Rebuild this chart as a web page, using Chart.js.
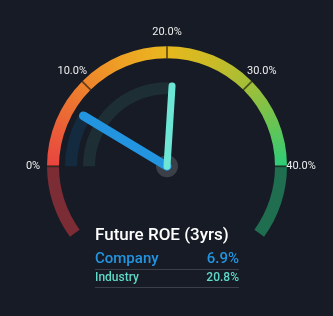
<!DOCTYPE html>
<html>
<head>
<meta charset="utf-8">
<script src="https://cdn.jsdelivr.net/npm/chart.js@4"></script>
<style>
  html, body { margin: 0; padding: 0; background: #161b25; }
  #wrap { position: relative; width: 333px; height: 316px; font-family: Roboto, sans-serif; }
  #gauge { position: absolute; left: 0; top: 0; }
  .title { position: absolute; left: 95px; top: 224px; color: #fff; font-size: 17px; font-weight: 500; }
  .row { position: absolute; left: 95px; width: 144px; display: flex; justify-content: space-between; border-bottom: 1px solid #3a3f4a; }
  .company { top: 249px; height: 20px; color: #2394df; font-size: 15px; font-weight: 500; }
  .industry { top: 270px; height: 17px; color: #5fd9c8; font-size: 12px; font-weight: 500; }
</style>
</head>
<body>
<div id="wrap">
  <canvas id="gauge" width="333" height="316"></canvas>
  <div class="title">Future ROE (3yrs)</div>
  <div class="row company"><span>Company</span><span id="cval"></span></div>
  <div class="row industry"><span>Industry</span><span id="ival"></span></div>
</div>
<script>
const scaleMin = 0;
const scaleMax = 40;
const tickValues = [0, 10, 20, 30, 40];
const tickLabels = ["0%", "10.0%", "20.0%", "30.0%", "40.0%"];
const seriesNames = ["Company", "Industry"];
const seriesValues = [6.9, 20.8];

const companyCol = "#2394df";
const industryCol = "#6de6d6";

document.getElementById("cval").textContent = seriesValues[0].toFixed(1) + "%";
document.getElementById("ival").textContent = seriesValues[1].toFixed(1) + "%";

// the gauge runs 36 degrees past horizontal on each side
const extension = (scaleMax - scaleMin) * 36 / 180;
const span = scaleMax - scaleMin;

const segments = [];
for (let i = 1; i < tickValues.length; i++) {
    segments.push(tickValues[i] - tickValues[i - 1]);
}

function outerColor(c) {
    if (c.dataIndex === 0) return "#7b2c35";
    if (c.dataIndex === segments.length + 1) return "#1f6e4f";
    const chart = c.chart;
    const area = chart.chartArea;
    if (!area) return "#e8b81e";
    const ctrl = chart.getDatasetMeta(0).controller;
    const cx = (area.left + area.right) / 2 + (ctrl.offsetX || 0);
    const cy = (area.top + area.bottom) / 2 + (ctrl.offsetY || 0);
    const g = chart.ctx.createConicGradient(Math.PI, cx, cy);
    g.addColorStop(0, "#e8453f");
    g.addColorStop(0.0625, "#eb6336");
    g.addColorStop(0.125, "#ee842c");
    g.addColorStop(0.1875, "#eea224");
    g.addColorStop(0.25, "#e8b81e");
    g.addColorStop(0.3125, "#ccbb26");
    g.addColorStop(0.375, "#a2bf38");
    g.addColorStop(0.4375, "#6ac452");
    g.addColorStop(0.5, "#2ecc78");
    g.addColorStop(1, "#2ecc78");
    return g;
}

const gaugePlugin = {
    id: "gaugeExtras",
    afterDatasetsDraw(chart) {
        const ctx = chart.ctx;
        const outer = chart.getDatasetMeta(0).data[1];
        const cx = outer.x, cy = outer.y;
        const toAngle = (v) => Math.PI + (v - scaleMin) / span * Math.PI;

        // tick marks and labels
        ctx.save();
        tickValues.forEach((v, i) => {
            const a = toAngle(v);
            ctx.strokeStyle = "rgba(20,16,10,0.55)";
            ctx.lineWidth = 2;
            ctx.beginPath();
            ctx.moveTo(cx + outer.innerRadius * Math.cos(a), cy + outer.innerRadius * Math.sin(a));
            ctx.lineTo(cx + outer.outerRadius * Math.cos(a), cy + outer.outerRadius * Math.sin(a));
            ctx.stroke();
            ctx.fillStyle = "#eeeeee";
            ctx.font = "11px Roboto";
            ctx.textAlign = "center";
            ctx.textBaseline = "middle";
            const r = outer.outerRadius + 14;
            ctx.fillText(tickLabels[i], cx + r * Math.cos(a), cy + r * Math.sin(a));
        });

        // hub
        ctx.fillStyle = "#3a3f48";
        ctx.beginPath();
        ctx.arc(cx, cy, 11, 0, Math.PI * 2);
        ctx.fill();

        // needles
        const needles = [
            { meta: 2, color: companyCol, width: 9 },
            { meta: 4, color: industryCol, width: 7 },
        ];
        needles.forEach((n) => {
            const arc = chart.getDatasetMeta(n.meta).data[1];
            const a = arc.endAngle;
            const r = arc.outerRadius - n.width / 2;
            ctx.strokeStyle = n.color;
            ctx.lineWidth = n.width;
            ctx.lineCap = "round";
            ctx.beginPath();
            ctx.moveTo(cx, cy);
            ctx.lineTo(cx + r * Math.cos(a), cy + r * Math.sin(a));
            ctx.stroke();
        });
        ctx.restore();
    },
};

const chart = new Chart(document.getElementById("gauge"), {
    type: "doughnut",
    data: {
        labels: [],
        datasets: [
            {
                label: "scale",
                data: [extension].concat(segments, [extension]),
                backgroundColor: outerColor,
                weight: 2,
            },
            { label: "gap1", data: [1], backgroundColor: "rgba(0,0,0,0)", weight: 1 },
            {
                label: seriesNames[0],
                data: [extension, seriesValues[0] - scaleMin, scaleMax - seriesValues[0] + extension],
                backgroundColor: ["rgba(0,0,0,0)", "#142a3f", "rgba(0,0,0,0)"],
                weight: 2,
            },
            { label: "gap2", data: [1], backgroundColor: "rgba(0,0,0,0)", weight: 1 },
            {
                label: seriesNames[1],
                data: [extension, seriesValues[1] - scaleMin, scaleMax - seriesValues[1] + extension],
                backgroundColor: ["rgba(0,0,0,0)", "#1d2f35", "rgba(0,0,0,0)"],
                weight: 2,
            },
        ],
    },
    options: {
        responsive: false,
        animation: false,
        events: [],
        rotation: -126,
        circumference: 252,
        radius: 120,
        cutout: "60%",
        borderWidth: 0,
        layout: { padding: { left: 47, right: 46, top: 46, bottom: 79 } },
        plugins: { legend: { display: false }, tooltip: { enabled: false } },
    },
    plugins: [gaugePlugin],
});
</script>
</body>
</html>
